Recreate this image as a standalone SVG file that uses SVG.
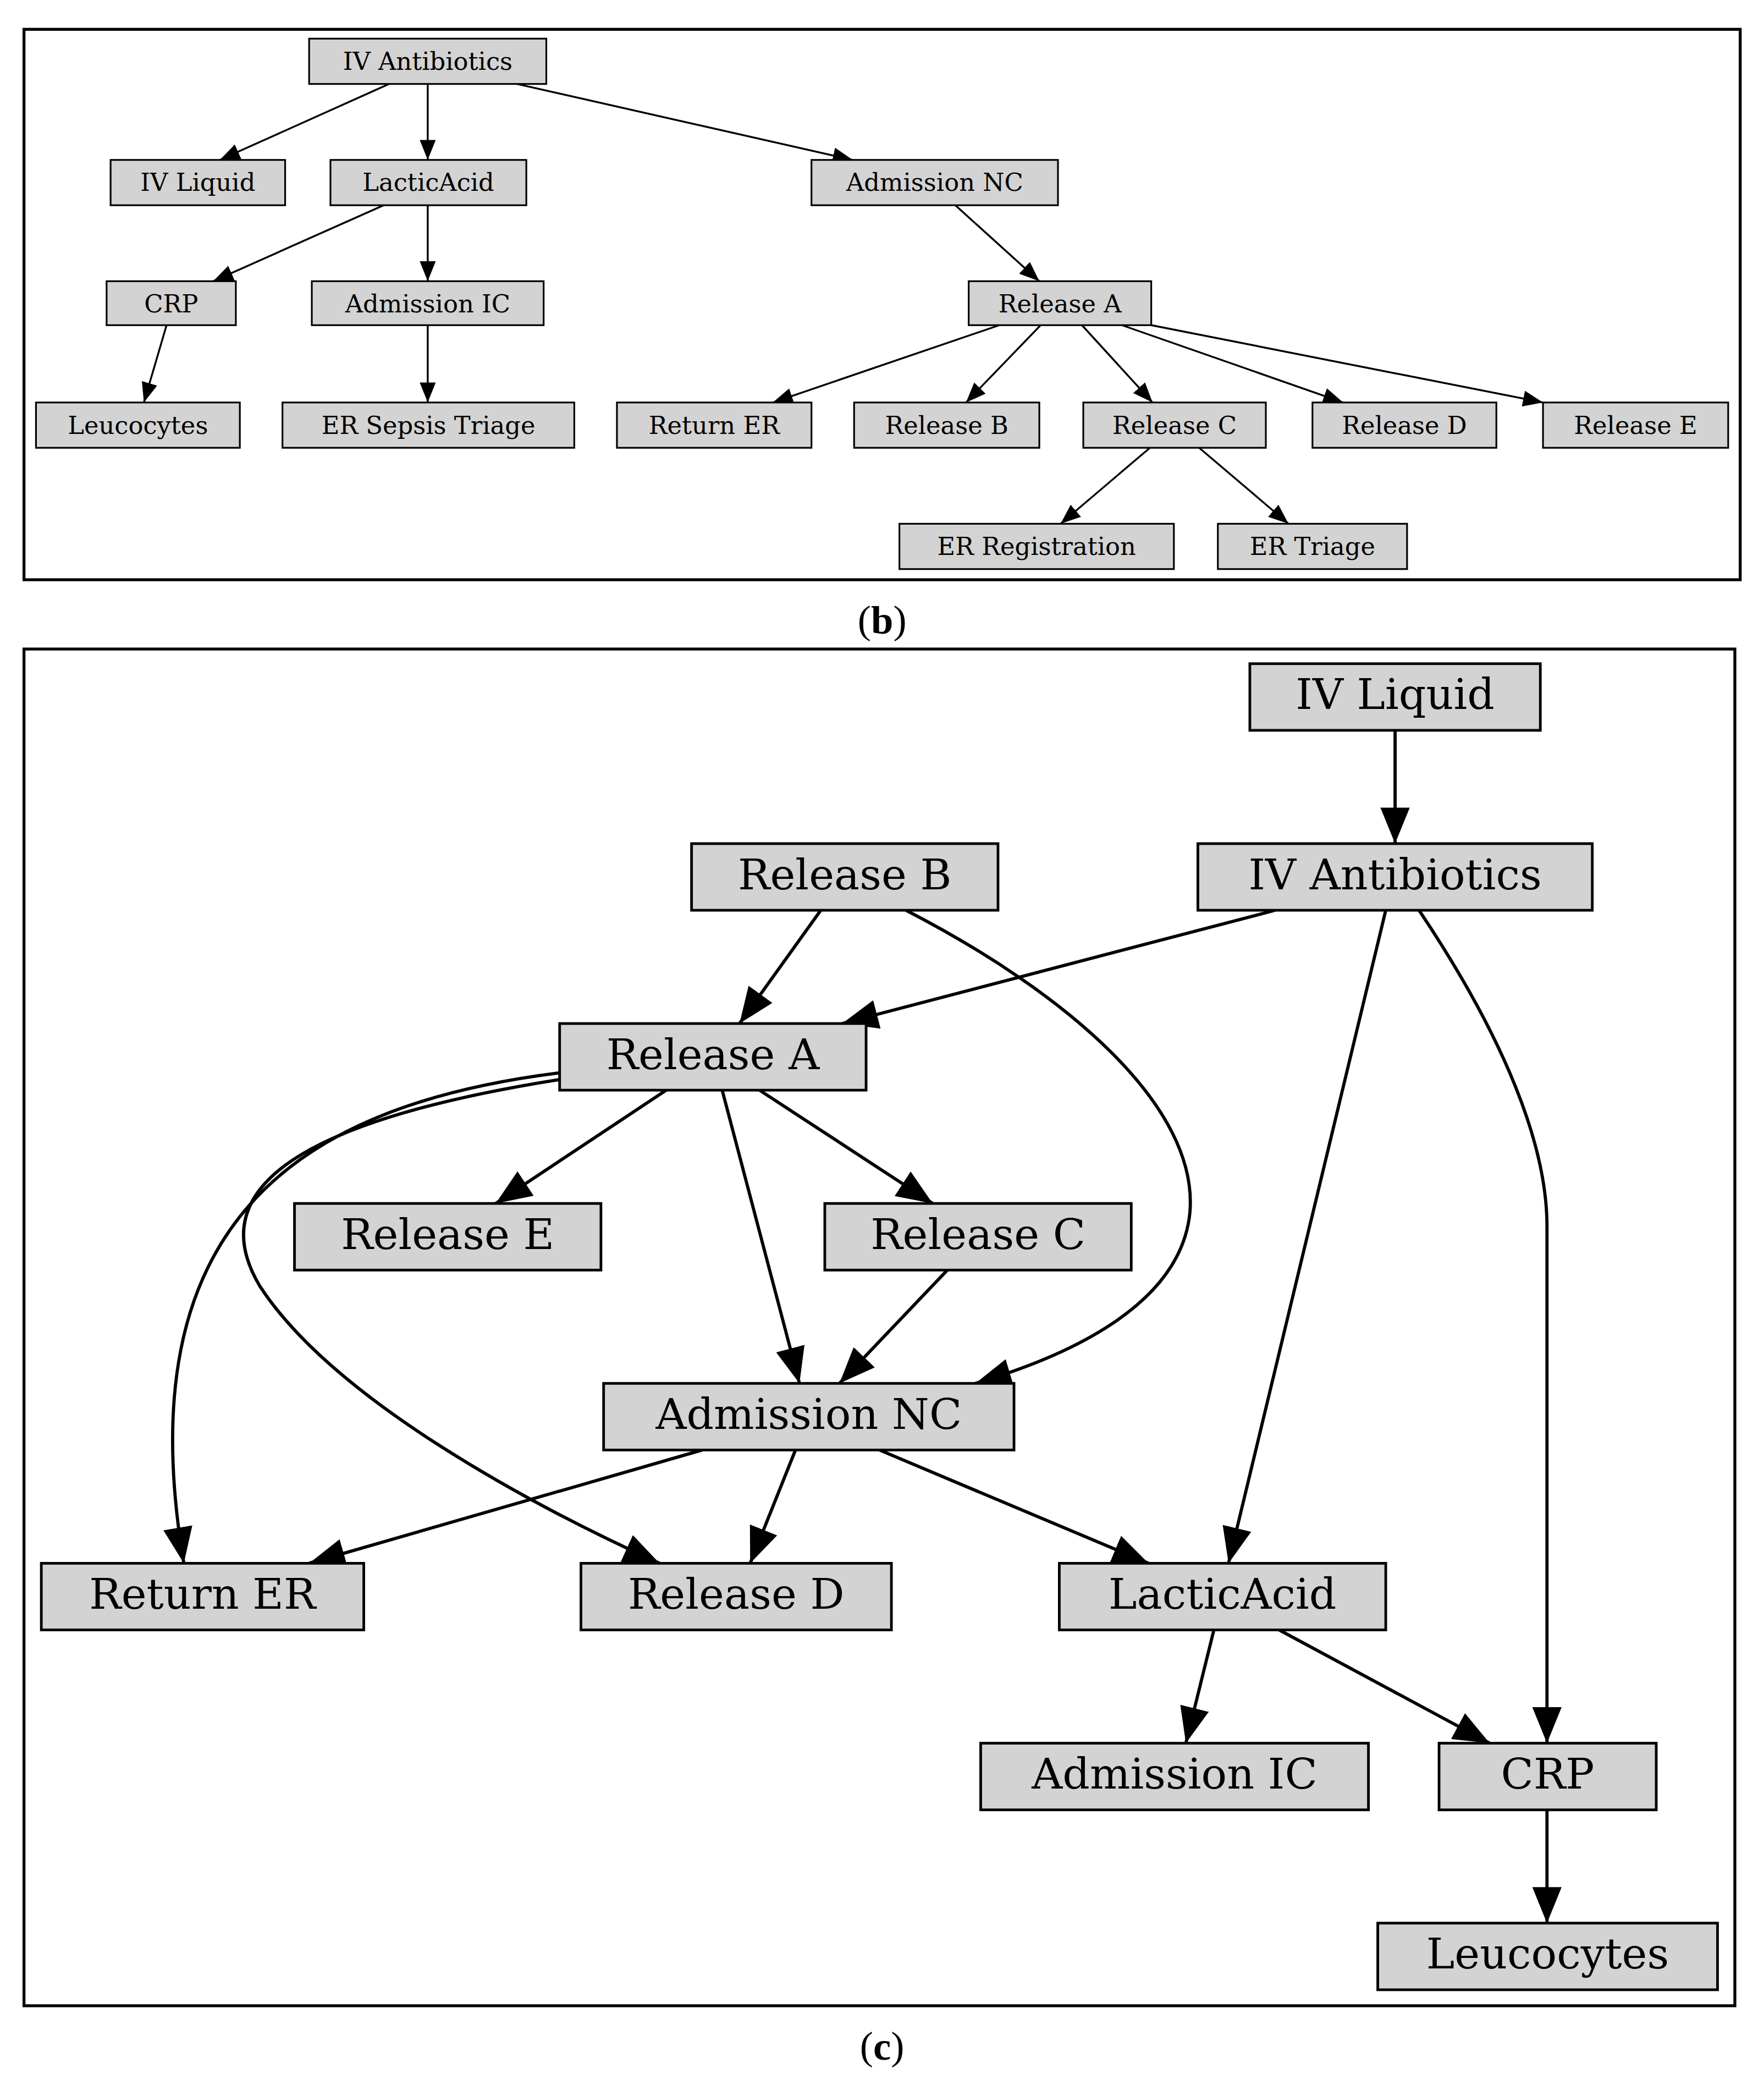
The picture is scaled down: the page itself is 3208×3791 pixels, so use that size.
<svg xmlns="http://www.w3.org/2000/svg" width="3208" height="3791" viewBox="0 0 3208 3791">
<style>
.n rect{fill:#d3d3d3;stroke:#000}
.t rect{stroke-width:1.3}
.b rect{stroke-width:2}
text{font-family:"DejaVu Serif",serif;text-anchor:middle;dominant-baseline:central;fill:#000}
.t text{font-size:18.5px}
.b text{font-size:32px}
.et path{stroke:#000;stroke-width:1.4;fill:none;marker-end:url(#as)}
.eb path{stroke:#000;stroke-width:2.4;fill:none;marker-end:url(#al)}
.frame{fill:none;stroke:#000;stroke-width:2.2}
</style>
<defs>
<marker id="as" markerUnits="userSpaceOnUse" markerWidth="16" markerHeight="12" refX="15" refY="6" orient="auto"><path d="M0,0L15,6L0,12z" fill="#000"/></marker>
<marker id="al" markerUnits="userSpaceOnUse" markerWidth="28" markerHeight="22" refX="27" refY="11" orient="auto"><path d="M0,0L27,11L0,22z" fill="#000"/></marker>
</defs>
<rect width="3208" height="3791" fill="#fff"/>
<g transform="scale(2.4232)">
<rect class="frame" x="18" y="22" width="1288" height="413"/>
<rect class="frame" x="18" y="487" width="1284" height="1018"/>
<text x="662" y="465" style="font-family:'Liberation Serif',serif;font-size:30px">(<tspan font-weight="bold">b</tspan>)</text>
<text x="662" y="1535" style="font-family:'Liberation Serif',serif;font-size:30px">(<tspan font-weight="bold">c</tspan>)</text>
<g id="edges-b" class="et">
<path d="M292,63L165,120"/><path d="M321,63L321,120"/><path d="M388,63L640,120"/>
<path d="M288,154L160,211"/><path d="M321,154L321,211"/><path d="M125,244L108,302"/>
<path d="M321,244L321,302"/><path d="M717,154L780,211"/>
<path d="M750,244L580,302"/><path d="M781,244L725,302"/><path d="M812,244L865,302"/>
<path d="M842,244L1008,302"/><path d="M864,244L1158,302"/>
<path d="M863,336L796,393"/><path d="M900,336L967,393"/>
</g>
<g class="n t">
<g id="b-ivantibiotics"><rect x="232" y="29" width="178" height="34"/><text x="321" y="46">IV Antibiotics</text></g>
<g id="b-ivliquid"><rect x="83" y="120" width="131" height="34"/><text x="148.5" y="137">IV Liquid</text></g>
<g id="b-lacticacid"><rect x="248" y="120" width="147" height="34"/><text x="321.5" y="137">LacticAcid</text></g>
<g id="b-admissionnc"><rect x="609" y="120" width="185" height="34"/><text x="701.5" y="137">Admission NC</text></g>
<g id="b-crp"><rect x="80" y="211" width="97" height="33"/><text x="128.5" y="228">CRP</text></g>
<g id="b-admissionic"><rect x="234" y="211" width="174" height="33"/><text x="321" y="228">Admission IC</text></g>
<g id="b-releasea"><rect x="727" y="211" width="137" height="33"/><text x="795.5" y="228">Release A</text></g>
<g id="b-leucocytes"><rect x="27" y="302" width="153" height="34"/><text x="103.5" y="319">Leucocytes</text></g>
<g id="b-ersepsis"><rect x="212" y="302" width="219" height="34"/><text x="321.5" y="319">ER Sepsis Triage</text></g>
<g id="b-returner"><rect x="463" y="302" width="146" height="34"/><text x="536" y="319">Return ER</text></g>
<g id="b-releaseb"><rect x="641" y="302" width="139" height="34"/><text x="710.5" y="319">Release B</text></g>
<g id="b-releasec"><rect x="813" y="302" width="137" height="34"/><text x="881.5" y="319">Release C</text></g>
<g id="b-released"><rect x="985" y="302" width="138" height="34"/><text x="1054" y="319">Release D</text></g>
<g id="b-releasee"><rect x="1158" y="302" width="139" height="34"/><text x="1227.5" y="319">Release E</text></g>
<g id="b-erreg"><rect x="675" y="393" width="206" height="34"/><text x="778" y="410">ER Registration</text></g>
<g id="b-ertriage"><rect x="914" y="393" width="142" height="34"/><text x="985" y="410">ER Triage</text></g>
</g>
<g id="edges-c" class="eb">
<path d="M1047,548L1047,633"/>
<path d="M616,683L555,768"/>
<path d="M957,683L632,768"/>
<path d="M680,683C800,745 900,830 893,910C886,980 800,1018 732,1038"/>
<path d="M420,805C220,830 95,920 138,1173"/>
<path d="M420,810C230,840 150,890 195,965C250,1050 400,1130 495,1173"/>
<path d="M500,818L372,903"/>
<path d="M570,818L700,903"/>
<path d="M542,818L600,1038"/>
<path d="M711,953L630,1038"/>
<path d="M527,1088L232,1173"/>
<path d="M597,1088L563,1173"/>
<path d="M660,1088L862,1173"/>
<path d="M1040,683L922,1173"/>
<path d="M1065,683C1130,780 1161,860 1161,920L1161,1308"/>
<path d="M911,1223L890,1308"/>
<path d="M960,1223L1118,1308"/>
<path d="M1161,1358L1161,1443"/>
</g>
<g class="n b">
<g id="c-ivliquid"><rect x="938" y="498" width="218" height="50"/><text x="1047" y="521">IV Liquid</text></g>
<g id="c-releaseb"><rect x="519" y="633" width="230" height="50"/><text x="634" y="656">Release B</text></g>
<g id="c-ivantibiotics"><rect x="899" y="633" width="296" height="50"/><text x="1047" y="656">IV Antibiotics</text></g>
<g id="c-releasea"><rect x="420" y="768" width="230" height="50"/><text x="535" y="791">Release A</text></g>
<g id="c-releasee"><rect x="221" y="903" width="230" height="50"/><text x="336" y="926">Release E</text></g>
<g id="c-releasec"><rect x="619" y="903" width="230" height="50"/><text x="734" y="926">Release C</text></g>
<g id="c-admissionnc"><rect x="453" y="1038" width="308" height="50"/><text x="607" y="1061">Admission NC</text></g>
<g id="c-returner"><rect x="31" y="1173" width="242" height="50"/><text x="152" y="1196">Return ER</text></g>
<g id="c-released"><rect x="436" y="1173" width="233" height="50"/><text x="552.5" y="1196">Release D</text></g>
<g id="c-lacticacid"><rect x="795" y="1173" width="245" height="50"/><text x="917.5" y="1196">LacticAcid</text></g>
<g id="c-admissionic"><rect x="736" y="1308" width="291" height="50"/><text x="881.5" y="1331">Admission IC</text></g>
<g id="c-crp"><rect x="1080" y="1308" width="163" height="50"/><text x="1161.5" y="1331">CRP</text></g>
<g id="c-leucocytes"><rect x="1034" y="1443" width="255" height="50"/><text x="1161.5" y="1466">Leucocytes</text></g>
</g>
</g>
</svg>
